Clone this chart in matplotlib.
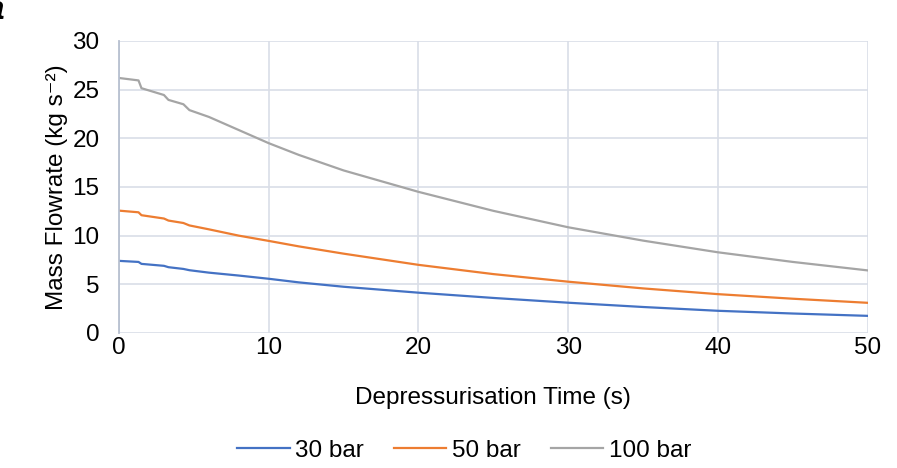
import matplotlib.pyplot as plt

plt.rcParams['font.family'] = ['Liberation Sans', 'DejaVu Sans']

# depressurisation time (s)
time_s = [0, 1.3, 1.5, 3.0, 3.3, 4.3, 4.7, 6, 8, 10, 12, 15, 20, 25, 30, 35, 40, 45, 50]

# mass flowrate for each initial pressure
flow_30bar = [7.41, 7.30, 7.10, 6.90, 6.76, 6.58, 6.45, 6.20, 5.90, 5.57, 5.20, 4.75,
              4.14, 3.60, 3.11, 2.67, 2.28, 2.00, 1.76]
flow_50bar = [12.57, 12.40, 12.10, 11.76, 11.55, 11.30, 11.05, 10.65, 10.00, 9.46, 8.90,
              8.15, 7.00, 6.05, 5.27, 4.58, 3.99, 3.52, 3.10]
flow_100bar = [26.20, 25.95, 25.15, 24.45, 23.95, 23.50, 22.90, 22.20, 20.85, 19.50, 18.30,
               16.70, 14.50, 12.55, 10.86, 9.49, 8.29, 7.30, 6.43]

series = [("30 bar", flow_30bar, '#4472C4'),
          ("50 bar", flow_50bar, '#ED7D31'),
          ("100 bar", flow_100bar, '#A5A5A5')]

fig = plt.figure(figsize=(8.97, 4.68), dpi=100)
ax = fig.add_axes([0.1327, 0.2885, 0.8346, 0.6239])

for label, vals, col in series:
    ax.plot(time_s, vals, color=col, linewidth=1.6, label=label)

ax.set_xlim(0, 50)
ax.set_ylim(0, 30)
ax.set_xticks(range(0, 51, 10))
ax.set_yticks(range(0, 31, 5))
ax.grid(True, color='#D9DEE7', linewidth=1.2)
ax.set_axisbelow(True)
for side in ['top', 'right', 'bottom']:
    ax.spines[side].set_visible(False)
ax.spines['left'].set_color('#B7C0D0')
ax.spines['left'].set_linewidth(1.3)
ax.tick_params(length=0, labelsize=17.5)
ax.tick_params(axis='y', pad=14)
ax.tick_params(axis='x', pad=3)

ax.set_xlabel("Depressurisation Time (s)", fontsize=17.5, labelpad=20)
ax.set_ylabel("Mass Flowrate (kg s\u207b\u00b2)", fontsize=17.5, labelpad=3)

ax.legend(loc='upper center', bbox_to_anchor=(0.461, -0.29), ncol=3, frameon=False,
          fontsize=17.5, handlelength=2.15, columnspacing=1.25, handletextpad=0.22)

# panel letter, clipped at the image edge like the original
fig.text(-0.016, 1.01, "a", fontsize=24, fontweight='bold', style='italic', va='top')

plt.savefig("out.png", dpi=100)
plt.close()
